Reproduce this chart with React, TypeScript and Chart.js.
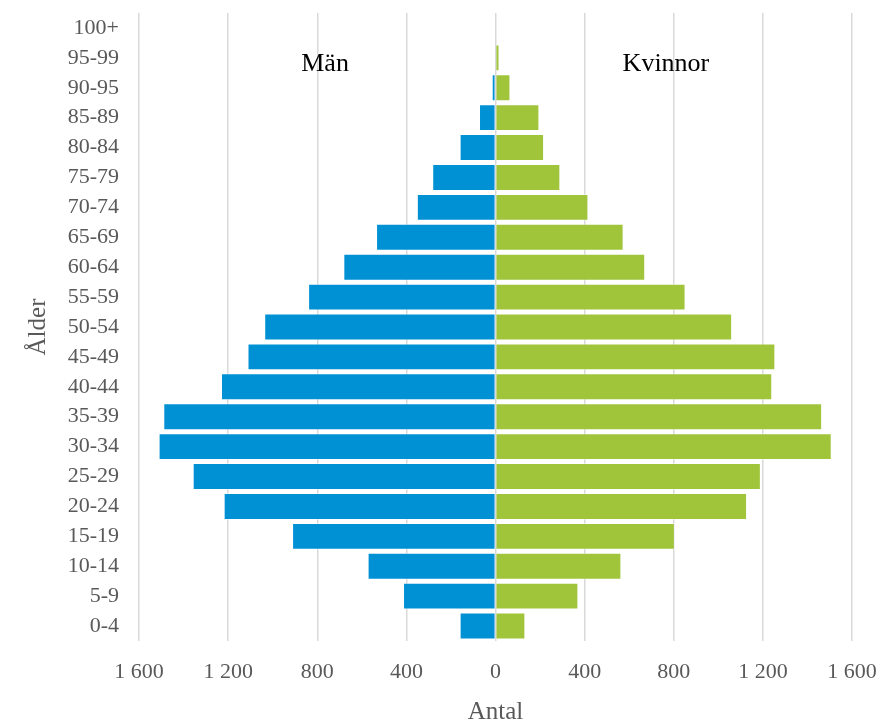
import React, { useEffect, useRef } from "react";
import { Chart, registerables } from "chart.js";

Chart.register(...registerables);

const ageGroups = [
  "0-4", "5-9", "10-14", "15-19", "20-24", "25-29", "30-34", "35-39", "40-44",
  "45-49", "50-54", "55-59", "60-64", "65-69", "70-74", "75-79", "80-84",
  "85-89", "90-95", "95-99", "100+",
];
const men = [161, 415, 574, 913, 1220, 1359, 1512, 1491, 1232, 1113, 1038, 841, 683, 536, 353, 284, 161, 74, 17, 0, 0];
const women = [134, 372, 565, 805, 1129, 1191, 1509, 1466, 1242, 1256, 1062, 853, 672, 575, 417, 291, 218, 197, 67, 18, 0];
const xTicks = [-1600, -1200, -800, -400, 0, 400, 800, 1200, 1600];
const seriesNames = ["Män", "Kvinnor"];
const axisTitles = { x: "Antal", y: "Ålder" };

const FONT = '"Liberation Serif", "Times New Roman", serif';

function formatNum(v: number) {
  const a = Math.abs(v);
  const s = String(a);
  return s.replace(/\B(?=(\d{3})+(?!\d))/g, " ");
}

const seriesLabelPlugin = {
  id: "seriesLabels",
  afterDraw(chart: any) {
    const { ctx, scales } = chart;
    const x = scales.x;
    const y = scales.y;
    const yPos = y.getPixelForValue(ageGroups.indexOf("95-99")) + 13;
    ctx.save();
    ctx.font = `26px ${FONT}`;
    ctx.fillStyle = "#000000";
    ctx.textAlign = "center";
    ctx.textBaseline = "alphabetic";
    ctx.fillText(seriesNames[0], x.getPixelForValue(-765), yPos);
    ctx.fillText(seriesNames[1], x.getPixelForValue(765), yPos);
    ctx.restore();
  },
};

export default function App() {
  const canvasRef = useRef<HTMLCanvasElement | null>(null);

  useEffect(() => {
    if (!canvasRef.current) return;
    const chart = new Chart(canvasRef.current, {
      type: "bar",
      data: {
        labels: ageGroups,
        datasets: [
          {
            label: seriesNames[0],
            data: men.map((v) => -v),
            backgroundColor: "#0091D5",
            borderColor: "rgba(255,255,255,0.5)",
            borderWidth: 1,
            barPercentage: 0.9,
            categoryPercentage: 1,
          },
          {
            label: seriesNames[1],
            data: women,
            backgroundColor: "#A1C53A",
            borderColor: "rgba(255,255,255,0.5)",
            borderWidth: 1,
            barPercentage: 0.9,
            categoryPercentage: 1,
          },
        ],
      },
      options: {
        indexAxis: "y",
        responsive: false,
        animation: false,
        devicePixelRatio: 1,
        layout: { padding: { top: 13, right: 32, left: 0, bottom: 0 } },
        plugins: {
          legend: { display: false },
          tooltip: { enabled: false },
        },
        scales: {
          x: {
            stacked: true,
            min: -1600,
            max: 1600,
            afterBuildTicks: (scale: any) => {
              scale.ticks = xTicks.map((v) => ({ value: v }));
            },
            afterFit: (scale: any) => {
              scale.height = 86;
              scale.paddingLeft = 0;
              scale.paddingRight = 0;
              scale.paddingTop = 0;
              scale.paddingBottom = 0;
            },
            ticks: {
              callback: (v: any) => formatNum(Number(v)),
              color: "#595959",
              font: { family: FONT, size: 22 },
              padding: 18,
              maxRotation: 0,
              autoSkip: false,
            },
            grid: { color: "#d9d9d9", lineWidth: 1.5, drawTicks: false },
            border: { display: false },
            title: {
              display: true,
              text: axisTitles.x,
              color: "#595959",
              font: { family: FONT, size: 25 },
              padding: { top: 0, bottom: 0 },
            },
          },
          y: {
            stacked: true,
            reverse: true,
            afterFit: (scale: any) => {
              scale.width = 139;
              scale.paddingLeft = 0;
              scale.paddingRight = 0;
              scale.paddingTop = 0;
              scale.paddingBottom = 0;
            },
            ticks: {
              color: "#595959",
              font: { family: FONT, size: 22 },
              padding: 20,
              autoSkip: false,
            },
            grid: { display: false, drawTicks: false },
            border: { display: false },
            title: {
              display: true,
              text: axisTitles.y,
              color: "#595959",
              font: { family: FONT, size: 25 },
              padding: { top: 23, bottom: 0 },
            },
          },
        },
      },
      plugins: [seriesLabelPlugin],
    } as any);
    return () => chart.destroy();
  }, []);

  return (
    <div style={{ position: "absolute", left: 0, top: 0, width: 884, height: 727, background: "#fff" }}>
      <canvas ref={canvasRef} width={884} height={727} style={{ display: "block" }} />
    </div>
  );
}
